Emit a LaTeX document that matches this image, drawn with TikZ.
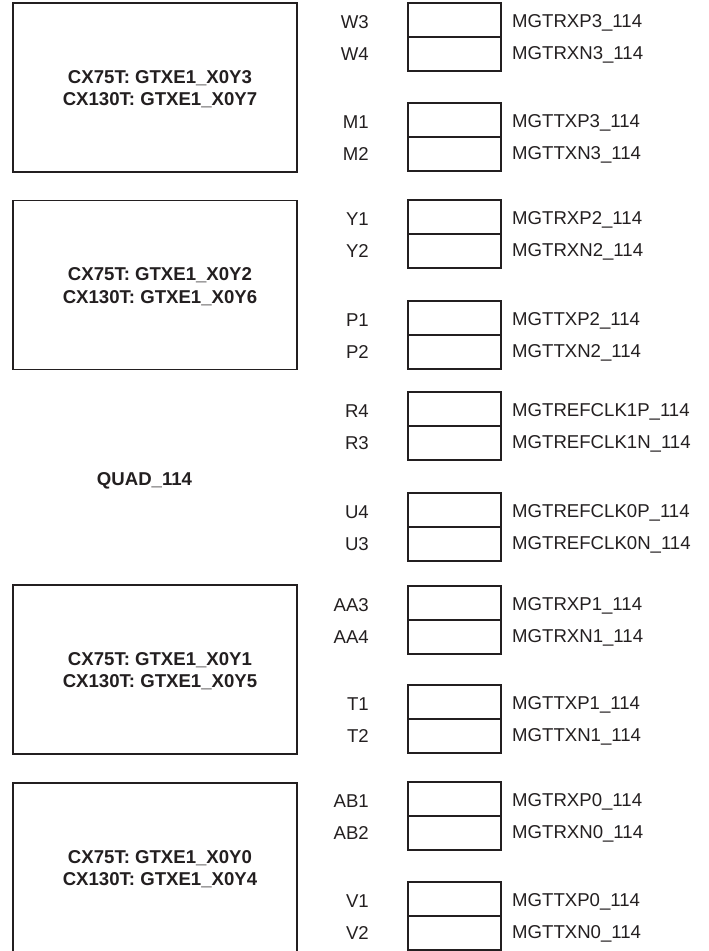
\documentclass[tikz,border=0pt]{standalone}
\usepackage{fontspec}
\setmainfont{Liberation Sans}
\definecolor{ink}{HTML}{231F20}
\begin{document}
\begin{tikzpicture}[x=1pt,y=-1pt,
  bigbox/.style={draw=ink,line width=1.4pt,minimum width=284pt,minimum height=169pt,inner sep=0pt,outer sep=0pt,anchor=north west},
  pinhalf/.style={draw=ink,line width=1.3pt,minimum width=93pt,minimum height=34pt,inner sep=0pt,outer sep=0pt,anchor=north west},
  ball/.style={anchor=base east,inner sep=0pt,font=\fontsize{18.6}{22}\selectfont,text=ink},
  pname/.style={anchor=base west,inner sep=0pt,font=\fontsize{18.6}{22}\selectfont,text=ink},
  gtxlabel/.style={anchor=base,inner sep=0pt,font=\bfseries\fontsize{18.6}{22}\selectfont,text=ink}]
\useasboundingbox (0,0) rectangle (709,951);

% GTX blocks
\foreach \t/\a/\b/\id in {3/3/7/g3, 200.5/2/6/g2, 585/1/5/g1, 783/0/4/g0}{
  \node[bigbox] (\id) at (13,\t) {};
  \node[gtxlabel] (\id l1) at (160,\t+80) {CX75T: GTXE1\_X0Y\a};
  \node[gtxlabel] (\id l2) at (160,\t+102.5) {CX130T: GTXE1\_X0Y\b};
}

\node[gtxlabel] (quad) at (144.5,485.7) {QUAD\_114};

% pin pairs
\foreach \t/\ba/\bb/\na/\nb/\id in {
  3/W3/W4/MGTRXP3\_114/MGTRXN3\_114/w,
  103/M1/M2/MGTTXP3\_114/MGTTXN3\_114/m,
  200/Y1/Y2/MGTRXP2\_114/MGTRXN2\_114/y,
  301/P1/P2/MGTTXP2\_114/MGTTXN2\_114/p,
  392/R4/R3/MGTREFCLK1P\_114/MGTREFCLK1N\_114/r,
  493/U4/U3/MGTREFCLK0P\_114/MGTREFCLK0N\_114/u,
  586/AA3/AA4/MGTRXP1\_114/MGTRXN1\_114/aa,
  685/T1/T2/MGTTXP1\_114/MGTTXN1\_114/t,
  782/AB1/AB2/MGTRXP0\_114/MGTRXN0\_114/ab,
  882/V1/V2/MGTTXP0\_114/MGTTXN0\_114/v}{
  \node[pinhalf] (\id a) at (408,\t) {};
  \node[pinhalf] (\id b) at (408,\t+34) {};
  \node[ball] (\id ba) at (369,\t+25.5) {\ba};
  \node[ball] (\id bb) at (369,\t+57.5) {\bb};
  \node[pname] (\id na) at (512,\t+24.3) {\na};
  \node[pname] (\id nb) at (512,\t+56) {\nb};
}
\end{tikzpicture}
\end{document}
